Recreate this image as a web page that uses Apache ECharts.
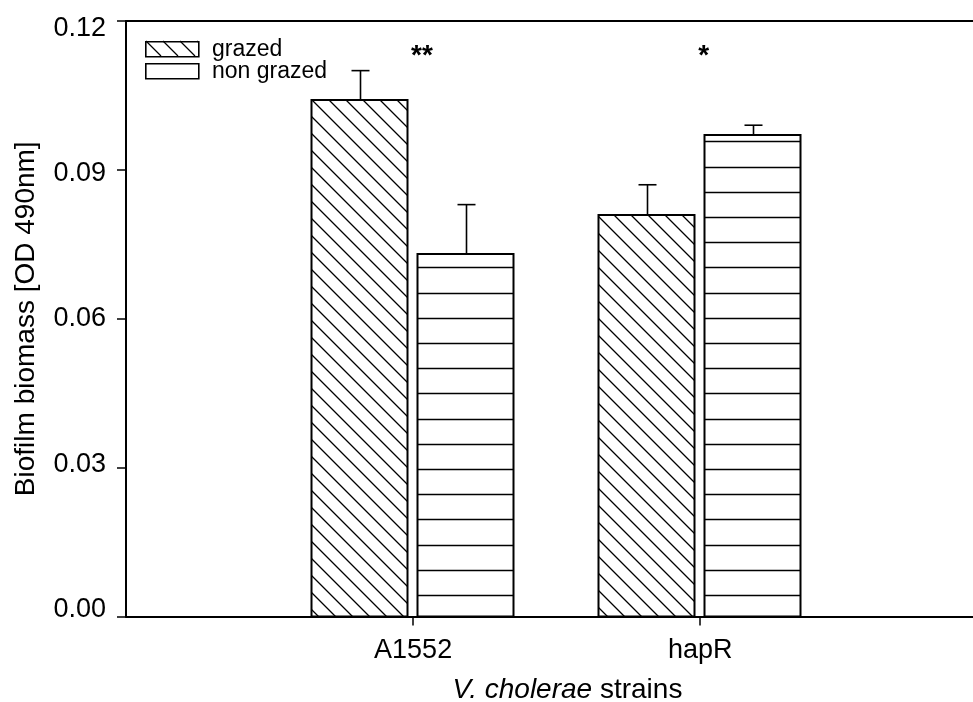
<!DOCTYPE html>
<html>
<head>
<meta charset="utf-8">
<script src="https://cdn.jsdelivr.net/npm/echarts@6/dist/echarts.min.js"></script>
<style>
  html, body { margin: 0; padding: 0; background: #fff; }
  #chart { width: 973px; height: 702px; }
</style>
</head>
<body>
<div id="chart"></div>
<script>
// Biofilm biomass of V. cholerae strains, grazed vs non grazed
const strains = ['A1552', 'hapR'];
const seriesNames = ['grazed', 'non grazed'];
const grazedMean = [0.104, 0.081];
const grazedErr = [0.006, 0.006];
const nonGrazedMean = [0.073, 0.097];
const nonGrazedErr = [0.010, 0.002];
const significance = ['**', '*'];
const yTickValues = [0, 0.03, 0.06, 0.09, 0.12];

const FONT = '"Liberation Sans", Arial, sans-serif';
const INK = '#000';

// strain i sits at x = i + 1 on a value axis
const strainPos = strains.map((_, i) => i + 1);

// tick labels sit slightly pulled toward the middle of the axis
const yLabelShift = [-7, -3.4, 0, 3.5, 7.5];
const yLabelRich = {};
yLabelShift.forEach((d, k) => {
  yLabelRich['t' + k] = {
    fontFamily: FONT, fontSize: 27, color: INK,
    padding: d >= 0 ? [2 * d, 0, 0, 0] : [0, 0, -2 * d, 0]
  };
});

function diagonalHatch(x0, y0, x1, y1, step, phase) {
  // "\" lines (x - y = c), clipped to the rectangle
  const out = [];
  const cMin = x0 - y1, cMax = x1 - y0;
  let c = Math.ceil((cMin - phase) / step) * step + phase;
  for (; c <= cMax; c += step) {
    const xs = Math.max(x0, y0 + c);
    const xe = Math.min(x1, y1 + c);
    if (xe - xs > 0.5) {
      out.push({
        type: 'line',
        shape: { x1: xs, y1: xs - c, x2: xe, y2: xe - c },
        style: { stroke: INK, lineWidth: 1.2 }
      });
    }
  }
  return out;
}

function horizontalHatch(x0, y0, x1, base, firstGap, step) {
  const out = [];
  for (let y = base - firstGap; y > y0 + 1; y -= step) {
    const yy = Math.round(y) + 0.5;
    out.push({
      type: 'line',
      shape: { x1: x0, y1: yy, x2: x1, y2: yy },
      style: { stroke: INK, lineWidth: 1.4 }
    });
  }
  return out;
}

function barRenderer(side, pattern) {
  return function (params, api) {
    const xv = api.value(0), v = api.value(1), e = api.value(2);
    const unit = api.size([1, 0])[0];
    const p0 = api.coord([xv, 0]);
    const center = p0[0] + side * 0.1847 * unit;
    const half = 0.1675 * unit;
    const base = p0[1];
    const top = api.coord([xv, v])[1];
    const errTop = api.coord([xv, v + e])[1];
    const x0 = Math.round(center - half) - 0.5, x1 = Math.round(center + half) - 0.5;
    const yTop = Math.round(top);
    const children = [];
    children.push({
      type: 'rect',
      shape: { x: x0, y: yTop, width: x1 - x0, height: base - yTop },
      style: { fill: '#fff' }
    });
    const hatch = pattern === 'diag'
      ? diagonalHatch(x0, yTop, x1, base, 17, 8)
      : horizontalHatch(x0, yTop, x1, base, 21.5, 25.2);
    hatch.forEach(h => children.push(h));
    children.push({
      type: 'rect',
      shape: { x: x0, y: yTop, width: x1 - x0, height: base - yTop },
      style: { fill: null, stroke: INK, lineWidth: 2 }
    });
    const cx = Math.round(center) + 0.5;
    children.push({
      type: 'line',
      shape: { x1: cx, y1: yTop, x2: cx, y2: errTop },
      style: { stroke: INK, lineWidth: 1.6 }
    });
    children.push({
      type: 'line',
      shape: { x1: cx - 9, y1: errTop, x2: cx + 9, y2: errTop },
      style: { stroke: INK, lineWidth: 1.6 }
    });
    return { type: 'group', children: children };
  };
}

function sigRenderer(params, api) {
  const p = api.coord([api.value(0), api.value(1)]);
  return {
    type: 'text',
    x: p[0] - 2,
    y: p[1],
    style: {
      text: significance[params.dataIndex],
      font: 'bold 28px ' + FONT,
      fill: INK,
      align: 'left',
      verticalAlign: 'middle'
    }
  };
}

// legend swatches and labels
const legendGraphics = [];
(function () {
  const lx = 145, lw = 53, lh = 15;
  const rows = [41, 63];
  rows.forEach((ry, i) => {
    legendGraphics.push({
      type: 'rect', left: lx, top: ry,
      shape: { x: 0, y: 0, width: lw, height: lh },
      style: { fill: '#fff', stroke: INK, lineWidth: 1.6 },
      z: 10
    });
    if (i === 0) {
      diagonalHatch(lx, ry, lx + lw, ry + lh, 17, 3).forEach(h => {
        h.z = 11;
        legendGraphics.push(h);
      });
    }
    legendGraphics.push({
      type: 'text', left: 212, top: ry + lh / 2 - 10,
      style: { text: seriesNames[i], font: '23px ' + FONT, fill: INK },
      z: 10
    });
  });
})();

const chart = echarts.init(document.getElementById('chart'), null, { renderer: 'canvas' });

chart.setOption({
  animation: false,
  backgroundColor: '#fff',
  grid: { left: 126, right: 0, top: 21, bottom: 85.5, outerBoundsMode: 'none', containLabel: false },
  xAxis: [{
    type: 'value',
    min: 0,
    max: 2.95,
    position: 'bottom',
    axisLine: { show: true, lineStyle: { color: INK, width: 2 } },
    axisTick: { show: true, customValues: strainPos, length: 9, lineStyle: { color: INK, width: 1.5 } },
    axisLabel: {
      customValues: strainPos,
      formatter: v => strains[Math.round(v) - 1] || '',
      color: INK, fontFamily: FONT, fontSize: 27, margin: 21
    },
    splitLine: { show: false },
    name: '{i|V. cholerae} strains',
    nameLocation: 'middle',
    nameGap: 60,
    nameTextStyle: {
      color: INK, fontFamily: FONT, fontSize: 28,
      padding: [0, 0, 0, 36],
      rich: { i: { fontStyle: 'italic', fontFamily: FONT, fontSize: 28, color: INK } }
    }
  }, {
    type: 'value',
    min: 0,
    max: 2.95,
    position: 'top',
    axisLine: { show: true, onZero: false, lineStyle: { color: INK, width: 2 } },
    axisTick: { show: false },
    axisLabel: { show: false },
    splitLine: { show: false }
  }],
  yAxis: {
    type: 'value',
    min: 0,
    max: 0.12,
    interval: 0.03,
    axisLine: { show: true, lineStyle: { color: INK, width: 2 } },
    axisTick: { show: true, length: 9, lineStyle: { color: INK, width: 1.5 } },
    axisLabel: {
      formatter: v => {
        let k = yTickValues.findIndex(t => Math.abs(t - v) < 1e-9);
        if (k < 0) k = 2;
        return '{t' + k + '|' + v.toFixed(2) + '}';
      },
      rich: yLabelRich,
      color: INK, fontFamily: FONT, fontSize: 27, margin: 20
    },
    splitLine: { show: false },
    name: 'Biofilm biomass [OD 490nm]',
    nameLocation: 'middle',
    nameGap: 86,
    nameTextStyle: { color: INK, fontFamily: FONT, fontSize: 28 }
  },
  graphic: legendGraphics,
  series: [
    {
      name: seriesNames[0],
      type: 'custom',
      renderItem: barRenderer(-1, 'diag'),
      data: strainPos.map((x, i) => [x, grazedMean[i], grazedErr[i]]),
      encode: { x: 0, y: [1] },
      clip: false
    },
    {
      name: seriesNames[1],
      type: 'custom',
      renderItem: barRenderer(1, 'horiz'),
      data: strainPos.map((x, i) => [x, nonGrazedMean[i], nonGrazedErr[i]]),
      encode: { x: 0, y: [1] },
      clip: false
    },
    {
      name: 'significance',
      type: 'custom',
      renderItem: sigRenderer,
      data: strainPos.map(x => [x, 0.1128]),
      encode: { x: 0, y: 1 },
      clip: false,
      z: 5
    }
  ]
});
</script>
</body>
</html>
